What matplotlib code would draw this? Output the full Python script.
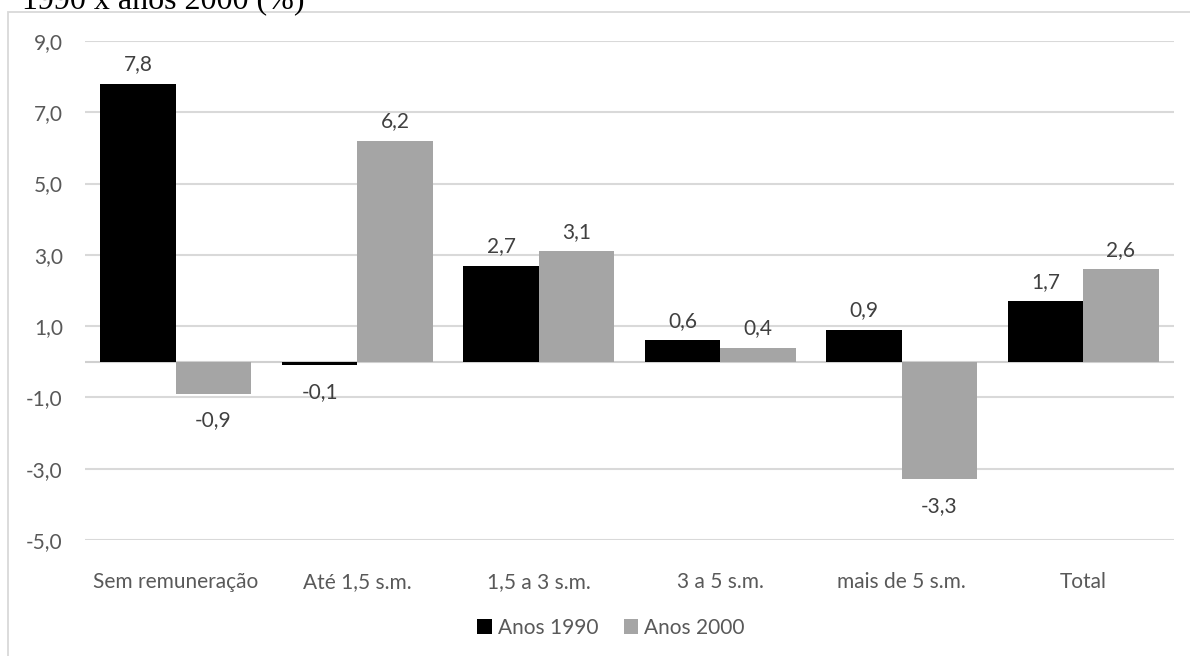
import matplotlib
matplotlib.use("Agg")
import matplotlib.pyplot as plt
from matplotlib.patches import Rectangle, Patch
import numpy as np

categories = ["Sem remuneração", "Até 1,5 s.m.", "1,5 a 3 s.m.", "3 a 5 s.m.", "mais de 5 s.m.", "Total"]
anos_1990 = [7.8, -0.1, 2.7, 0.6, 0.9, 1.7]
anos_2000 = [-0.9, 6.2, 3.1, 0.4, -3.3, 2.6]
series_names = ["Anos 1990", "Anos 2000"]
y_ticks = [-5, -3, -1, 1, 3, 5, 7, 9]

W, H = 1190, 656
plt.rcParams["font.family"] = ["Lato", "DejaVu Sans"]

fig = plt.figure(figsize=(W / 100, H / 100), dpi=100)

# chart frame and the heading above it, which runs off the top edge
fig.patches.append(Rectangle((8 / W, -0.1), 1.2, 1 - 12 / H + 0.1, transform=fig.transFigure,
                             fill=False, edgecolor="#D9D9D9", linewidth=1.3))
fig.text(22 / W, 1 - 8 / H, "1990 x anos 2000 (%)", family="Liberation Serif",
         fontsize=23, color="black", ha="left", va="baseline")

left, right = 85 / W, 1174 / W
top, bottom = 1 - 41 / H, 1 - 540 / H
ax = fig.add_axes([left, bottom, right - left, top - bottom])

x = np.arange(len(categories))
bw = 0.415
b1 = ax.bar(x - bw / 2, anos_1990, bw, color="black", zorder=3)
b2 = ax.bar(x + bw / 2, anos_2000, bw, color="#A5A5A5", zorder=3)

ax.set_xlim(-0.5, len(categories) - 0.5)
ax.set_ylim(-5, 9)
ax.set_yticks(y_ticks)
ax.set_yticklabels([f"{v:.1f}".replace(".", ",") for v in y_ticks])
ax.set_xticks(x)
ax.set_xticklabels(categories)
ax.tick_params(axis="both", length=0, labelsize=15, labelcolor="#595959")
ax.tick_params(axis="x", pad=23)
ax.tick_params(axis="y", pad=16)
for s in ax.spines.values():
    s.set_visible(False)
ax.grid(axis="y", color="#D9D9D9", linewidth=1.5, zorder=0)
ax.set_axisbelow(True)
ax.axhline(0, color="#D0D0D0", linewidth=1.5, zorder=2)

for bars, vals in ((b1, anos_1990), (b2, anos_2000)):
    for rect, v in zip(bars, vals):
        cx = rect.get_x() + rect.get_width() / 2
        off = 14 if v >= 0 else -19
        ax.annotate(f"{v:.1f}".replace(".", ","), (cx, v), xytext=(0, off),
                    textcoords="offset points", ha="center", va="center",
                    fontsize=15, color="#404040", zorder=4)

handles = [Patch(facecolor="black"), Patch(facecolor="#A5A5A5")]
fig.legend(handles, series_names, loc="center", bbox_to_anchor=(611 / W, 1 - 628 / H),
           ncol=2, frameon=False, fontsize=15, labelcolor="#595959",
           handlelength=0.7, handleheight=0.7, handletextpad=0.3, columnspacing=1.2)

fig.savefig("out.png", dpi=100)
